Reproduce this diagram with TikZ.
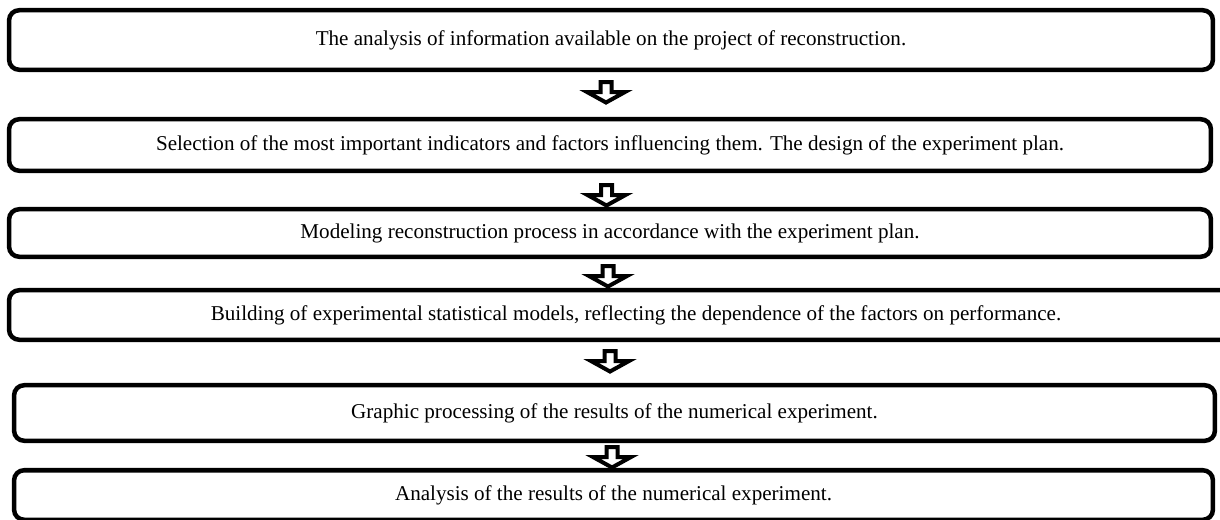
\documentclass[tikz,border=0pt]{standalone}
\usepackage{fontspec}
\setmainfont{Liberation Serif}
\usepackage{tikz}
\usetikzlibrary{calc}

\tikzset{
  stepbox/.style={draw,line width=0.1125cm,rounded corners=0.25cm,fill=white,inner sep=0pt,
    font=\fontsize{15}{18}\selectfont},
  hollowarr/.pic={
    \draw[line width=0.1cm,fill=white,line join=miter]
      (-5.5,2) -- (-5.5,12) -- (-19,12) -- (0,22.5) -- (19,12) -- (5.5,12) -- (5.5,2) -- cycle;
  }
}

\begin{document}
\begin{tikzpicture}[x=0.025cm,y=-0.025cm]
\useasboundingbox (0,0) rectangle (1220,519);

% Adimlar
\node[stepbox,minimum width=30.0875cm,minimum height=1.4875cm] (b1) at (611,40)
  {The analysis of information available on the project of reconstruction.};
\node[stepbox,minimum width=30.0375cm,minimum height=1.2875cm] (b2) at (610,145)
  {Selection of the most important indicators and factors influencing them. The design of the experiment plan.};
\node[stepbox,minimum width=30.0375cm,minimum height=1.1875cm] (b3) at (610,233)
  {Modeling reconstruction process in accordance with the experiment plan.};
\node[stepbox,minimum width=31.3375cm,minimum height=1.2375cm] (b4) at (636,315)
  {Building of experimental statistical models, reflecting the dependence of the factors on performance.};
\node[stepbox,minimum width=30.0125cm,minimum height=1.3875cm] (b5) at (614.5,413)
  {Graphic processing of the results of the numerical experiment.};
\node[stepbox,minimum width=29.9625cm,minimum height=1.2375cm] (b6) at (613.5,495)
  {Analysis of the results of the numerical experiment.};

% Oklar
\pic at ($(b1.south)+(-5,8)$) {hollowarr};
\pic at ($(b2.south)+(-3.5,10)$) {hollowarr};
\pic at ($(b3.south)+(-2,5)$) {hollowarr};
\pic at ($(b4.south)+(-26,7)$) {hollowarr};
\pic at ($(b5.south)+(-2.5,2)$) {hollowarr};

\end{tikzpicture}
\end{document}
